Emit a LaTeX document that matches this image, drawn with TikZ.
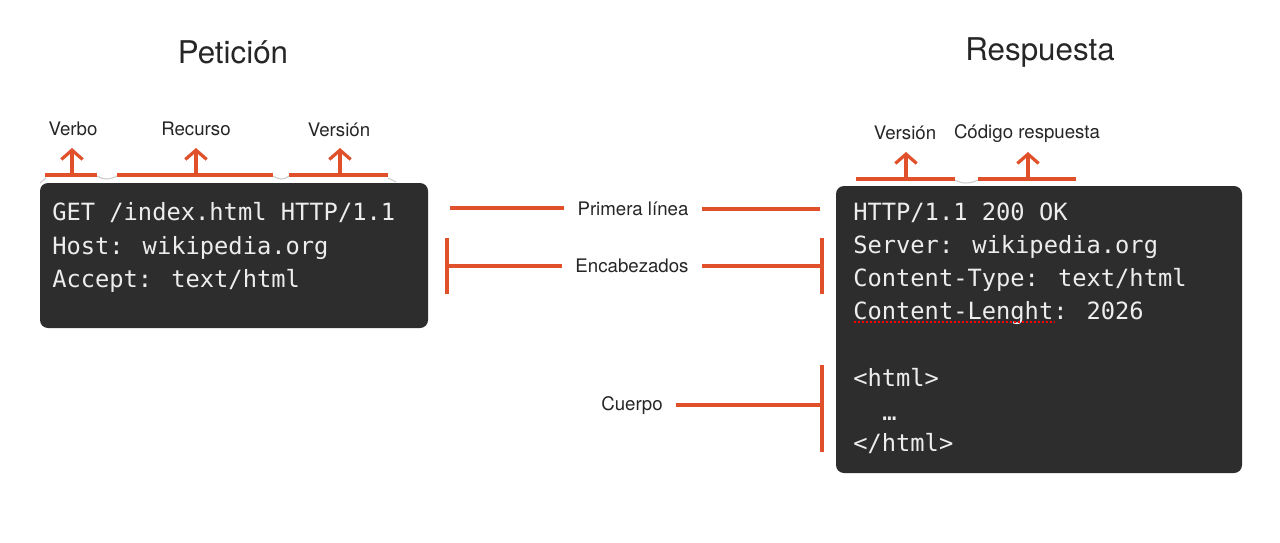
\documentclass[tikz,border=0pt]{standalone}
\usepackage{fontspec}
\setmainfont{TeX Gyre Heros}
\newfontfamily\codefont{DejaVu Sans Mono}
\usetikzlibrary{arrows.meta}
\definecolor{boxbg}{HTML}{2D2D2D}
\definecolor{mark}{HTML}{E0502A}
\definecolor{codefg}{HTML}{EDEDED}
\tikzset{
  codebox/.style={fill=boxbg, rounded corners=6pt, draw=none},
  code/.style={anchor=base west, text=codefg, font=\codefont\fontsize{17.8pt}{20pt}\selectfont, inner sep=0pt},
  title/.style={font=\fontsize{23.5pt}{26pt}\selectfont, text=black!85},
  lbl/.style={font=\fontsize{14pt}{16pt}\selectfont, text=black!85},
  midlbl/.style={lbl, inner xsep=10pt},
  bar/.style={draw=mark, line width=2.4pt},
  uparrow/.style={draw=mark, line width=2.4pt, -{Straight Barb[length=7pt,width=16pt,line width=2.4pt]}},
  shade/.style={draw=black!20, line width=0.8pt},
}
\begin{document}
\begin{tikzpicture}[x=0.75pt,y=-0.75pt]
\useasboundingbox (0,0) rectangle (1280,542);
\fill[white] (0,0) rectangle (1280,542);

% titles
\node[title] (tReq) at (233,52) {Petición};
\node[title] (tRes) at (1040,52) {Respuesta};

% boxes
\path[codebox] (40,183) rectangle (428,328);
\path[codebox] (836,186) rectangle (1242,473);

% request code
\node[code] (r1) at (52,220) {GET /index.html HTTP/1.1};
\node[code] (r2) at (52,254) {Host: wikipedia.org};
\node[code] (r3) at (52,287) {Accept: text/html};

% response code
\node[code] (s1) at (853,220) {HTTP/1.1 200 OK};
\node[code] (s2) at (853,253) {Server: wikipedia.org};
\node[code] (s3) at (853,286) {Content-Type: text/html};
\node[code] (s4) at (853,319) {Content-Lenght: 2026};
\node[code] (s5) at (853,386) {<html>};
\node[code] (s6) at (882,420) {…};
\node[code] (s7) at (853,451) {</html>};
\draw[red, line width=1.5pt, dash pattern=on 1.5pt off 1.5pt] (854,322) -- (1055,322);

% top labels
\node[lbl] (lVerbo) at (73,129) {Verbo};
\node[lbl] (lRecurso) at (196,129) {Recurso};
\node[lbl] (lVersion) at (339,130) {Versión};
\node[lbl] (lVersion2) at (905,133) {Versión};
\node[lbl] (lCodigo) at (1027,134) {Código respuesta};

% faint connectors
\draw[shade] (97,176) .. controls (103,180) and (110,180) .. (117,176);
\draw[shade] (273,176) .. controls (279,180) and (284,180) .. (289,176);
\draw[shade] (46,178) -- (40,183);
\draw[shade] (388,178) -- (396,182);
\draw[shade] (955,180) .. controls (962,184) and (970,184) .. (978,180);

% brackets request
\coordinate (vA) at (45,175); \coordinate (vB) at (97,175);
\coordinate (vM) at (72,175); \coordinate (vT) at (72,148);
\draw[bar] (vA) -- (vB);
\draw[uparrow] (vM) -- (vT);
\coordinate (rA) at (117,175); \coordinate (rB) at (273,175);
\coordinate (rM) at (196,175); \coordinate (rT) at (196,148);
\draw[bar] (rA) -- (rB);
\draw[uparrow] (rM) -- (rT);
\coordinate (eA) at (289,175); \coordinate (eB) at (388,175);
\coordinate (eM) at (340,175); \coordinate (eT) at (340,148);
\draw[bar] (eA) -- (eB);
\draw[uparrow] (eM) -- (eT);

% brackets response
\coordinate (wA) at (856,179); \coordinate (wB) at (955,179);
\coordinate (wM) at (906,179); \coordinate (wT) at (906,152);
\draw[bar] (wA) -- (wB);
\draw[uparrow] (wM) -- (wT);
\coordinate (cA) at (978,179); \coordinate (cB) at (1076,179);
\coordinate (cM) at (1028,179); \coordinate (cT) at (1028,152);
\draw[bar] (cA) -- (cB);
\draw[uparrow] (cM) -- (cT);

% middle labels
\node[midlbl] (mPrim) at (633,209) {Primera línea};
\node[midlbl] (mEnc) at (632,266) {Encabezados};
\node[midlbl] (mCue) at (632,406) {Cuerpo};

\coordinate (p1) at (450,208); \coordinate (p2) at (820,209);
\draw[bar] (p1) -- (p1 -| mPrim.west);
\draw[bar] (p2 -| mPrim.east) -- (p2);

\coordinate (eL) at (447,266); \coordinate (eLt) at (447,238); \coordinate (eLb) at (447,294);
\coordinate (eR) at (822,266); \coordinate (eRt) at (822,238); \coordinate (eRb) at (822,294);
\draw[bar] (eLt) -- (eLb);
\draw[bar] (eL) -- (eL -| mEnc.west);
\draw[bar] (eR -| mEnc.east) -- (eR);
\draw[bar] (eRt) -- (eRb);

\coordinate (bR) at (822,405); \coordinate (bRt) at (822,365); \coordinate (bRb) at (822,452);
\draw[bar] (bR -| mCue.east) -- (bR);
\draw[bar] (bRt) -- (bRb);
\end{tikzpicture}
\end{document}
